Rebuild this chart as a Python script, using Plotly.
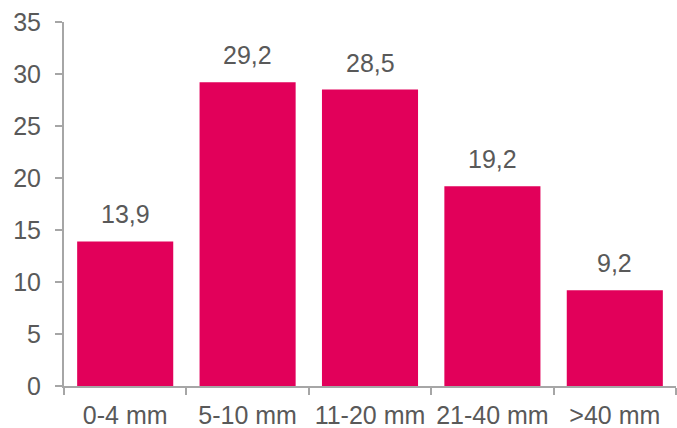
import plotly.graph_objects as go

categories = ["0-4 mm", "5-10 mm", "11-20 mm", "21-40 mm", ">40 mm"]
values = [13.9, 29.2, 28.5, 19.2, 9.2]
y_ticks = [0, 5, 10, 15, 20, 25, 30, 35]

bar_color = "#E2005A"
text_color = "#595959"
axis_color = "#A6A6A6"
font_family = "Liberation Sans, Arial, sans-serif"
fs = 25

fig = go.Figure()
fig.add_trace(go.Bar(x=categories, y=values, marker=dict(color=bar_color, line=dict(width=0)),
                     hoverinfo="skip"))

for c, v in zip(categories, values):
    fig.add_annotation(x=c, y=v, text=f"{v:.1f}".replace(".", ","), showarrow=False,
                       yanchor="bottom", yshift=11,
                       font=dict(size=fs, color=text_color, family=font_family))

fig.update_layout(
    width=677, height=428,
    margin=dict(l=64, r=1, t=22, b=42, autoexpand=False),
    paper_bgcolor="white", plot_bgcolor="white",
    bargap=0.215,
    showlegend=False,
    font=dict(family=font_family, size=fs, color=text_color),
)
fig.update_xaxes(
    showline=True, linecolor=axis_color, linewidth=2, automargin=False, tickangle=0,
    ticks="outside", tickson="boundaries", ticklen=7, tickcolor=axis_color, tickwidth=2,
    ticklabelstandoff=6,
    tickfont=dict(size=fs, color=text_color), showgrid=False,
)
fig.update_yaxes(
    range=[0, 35], tickvals=y_ticks, showline=True, linecolor=axis_color, linewidth=2,
    automargin=False,
    ticks="outside", ticklen=7, tickcolor=axis_color, tickwidth=2, ticklabelstandoff=9,
    tickfont=dict(size=fs, color=text_color), showgrid=False, zeroline=False,
)

fig.write_html("out.html")
